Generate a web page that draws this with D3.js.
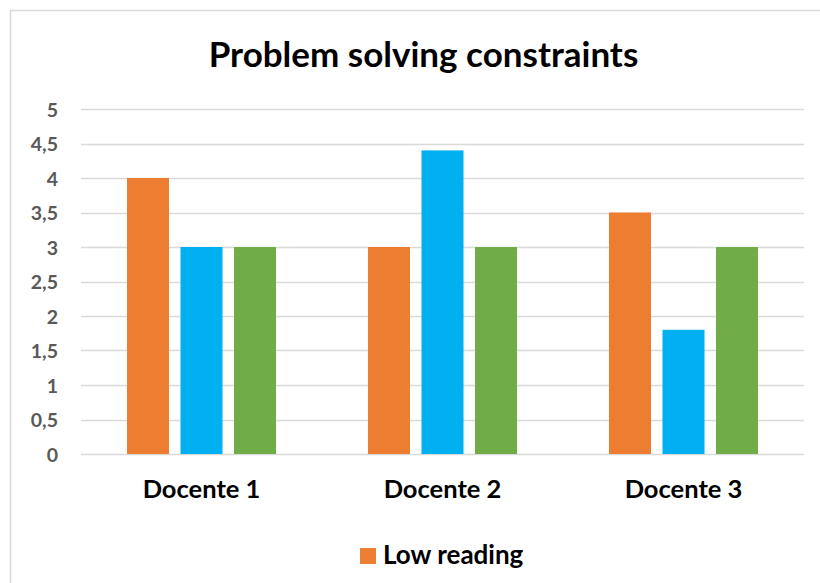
<!DOCTYPE html>
<html>
<head>
<meta charset="utf-8">
<script src="https://cdn.jsdelivr.net/npm/d3@7/dist/d3.min.js"></script>
<style>
  html, body { margin: 0; padding: 0; background: #fff; }
  svg { display: block; }
  text { font-family: Lato, "Open Sans", "Noto Sans", sans-serif; font-weight: bold; }
</style>
</head>
<body>
<svg id="chart" width="820" height="583"></svg>
<script>
// Chart data
const categories = ["Docente 1", "Docente 2", "Docente 3"];
const seriesNames = ["Low reading", "Series 2", "Series 3"];
const seriesColors = ["#ED7D31", "#00B0F0", "#70AD47"];
const lowReading = [4, 3, 3.5];
const series2 = [3, 4.4, 1.8];
const series3 = [3, 3, 3];
const yTicks = [0, 0.5, 1, 1.5, 2, 2.5, 3, 3.5, 4, 4.5, 5];
const legendItems = ["Low reading"];
const titleText = "Problem solving constraints";

const seriesValues = [lowReading, series2, series3];
const rows = categories.map((c, i) => ({
  category: c,
  values: seriesNames.map((s, j) => ({ series: s, value: seriesValues[j][i], color: seriesColors[j] }))
}));

const svg = d3.select("#chart");

// Chart area frame
svg.append("rect")
  .attr("x", 10.5).attr("y", 10.5)
  .attr("width", 830).attr("height", 600)
  .attr("fill", "#fff")
  .attr("stroke", "#D9D9D9").attr("stroke-width", 1.5);

const plot = { left: 81, right: 804, top: 109, bottom: 454 };

const y = d3.scaleLinear().domain([0, 5]).range([plot.bottom, plot.top]);
const x0 = d3.scaleBand().domain(categories).range([plot.left, plot.right]).padding(0);
const groupInset = 46;
const x1 = d3.scaleBand().domain(seriesNames)
  .range([groupInset, x0.bandwidth() - groupInset])
  .paddingInner(0.215).paddingOuter(0);

// Gridlines
svg.append("g")
  .selectAll("line")
  .data(yTicks)
  .join("line")
  .attr("x1", plot.left).attr("x2", plot.right)
  .attr("y1", d => Math.round(y(d)) + 0.5).attr("y2", d => Math.round(y(d)) + 0.5)
  .attr("stroke", "#D9D9D9").attr("stroke-width", 1.5);

// Y axis labels
const fmt = d => String(d).replace(".", ",");
const yAxis = d3.axisLeft(y).tickValues(yTicks).tickFormat(fmt).tickSize(0).tickPadding(0);
const yg = svg.append("g").attr("transform", `translate(58,0)`).call(yAxis);
yg.select(".domain").remove();
yg.selectAll("text")
  .attr("fill", "#595959")
  .style("font-size", "19.5px")
  .style("font-family", "Lato, 'Open Sans', sans-serif")
  .style("font-weight", "bold")
  .attr("dy", "0.36em");

// Bars
const groups = svg.append("g")
  .selectAll("g")
  .data(rows)
  .join("g")
  .attr("transform", d => `translate(${x0(d.category)},0)`);

groups.selectAll("rect")
  .data(d => d.values)
  .join("rect")
  .attr("x", d => x1(d.series))
  .attr("width", x1.bandwidth())
  .attr("y", d => y(d.value))
  .attr("height", d => y(0) - y(d.value))
  .attr("fill", d => d.color);

// Category labels
const xAxis = d3.axisBottom(x0).tickSize(0).tickPadding(0);
const xg = svg.append("g").attr("transform", `translate(0,${plot.bottom})`).call(xAxis);
xg.select(".domain").remove();
xg.selectAll("text")
  .attr("y", 44)
  .attr("dy", 0)
  .attr("fill", "#000")
  .style("font-size", "25.5px")
  .style("font-family", "Lato, 'Open Sans', sans-serif")
  .style("font-weight", "bold");

// Title
svg.append("text")
  .attr("x", 423.5).attr("y", 67)
  .attr("text-anchor", "middle")
  .attr("fill", "#000")
  .style("font-size", "35px")
  .text(titleText);

// Legend
const legend = svg.append("g").selectAll("g").data(legendItems).join("g");
legend.append("rect")
  .attr("x", 360).attr("y", 548)
  .attr("width", 16).attr("height", 16)
  .attr("fill", (d, i) => seriesColors[i]);
legend.append("text")
  .attr("x", 383).attr("y", 564)
  .attr("fill", "#000")
  .style("font-size", "26px")
  .text(d => d);
</script>
</body>
</html>
